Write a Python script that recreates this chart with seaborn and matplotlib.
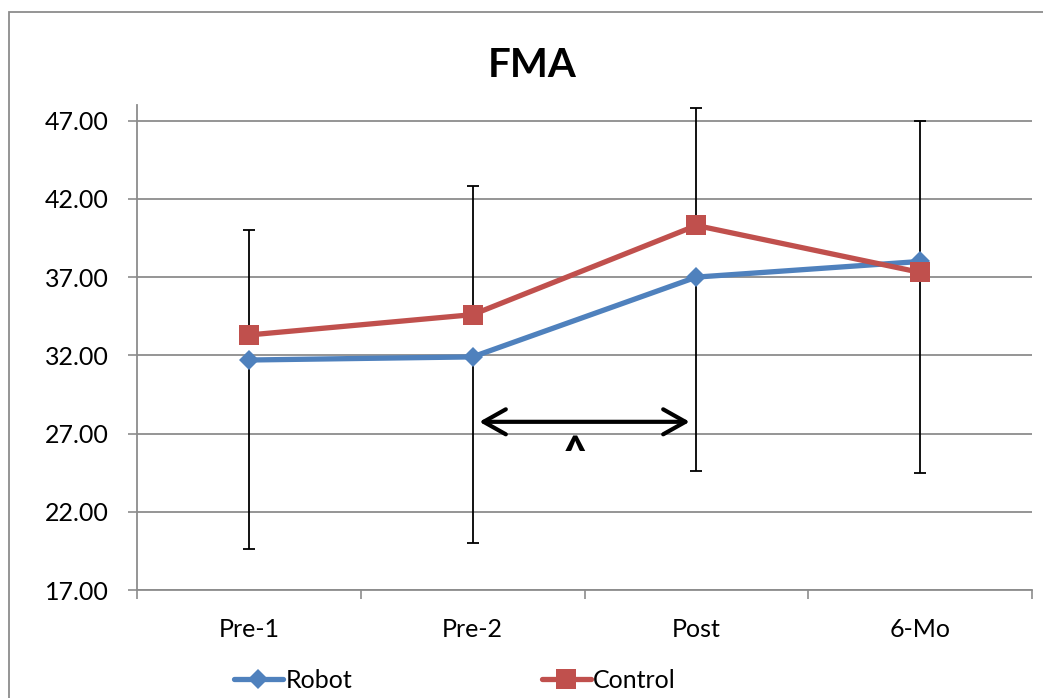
import numpy as np
import pandas as pd
import matplotlib
matplotlib.use("Agg")
import matplotlib.pyplot as plt
from matplotlib.patches import Rectangle
from matplotlib.lines import Line2D
import seaborn as sns

# FMA scores by assessment time point
timepoints = ["Pre-1", "Pre-2", "Post", "6-Mo"]
robot_mean = [31.7, 31.9, 37.0, 38.0]
control_mean = [33.3, 34.6, 40.3, 37.3]
robot_sd = [12.1, 11.9, 12.4, 13.5]      # drawn downward from the mean
control_sd = [6.7, 8.2, 7.5, 9.7]        # drawn upward from the mean
groups = ["Robot", "Control"]
y_ticks = [17, 22, 27, 32, 37, 42, 47]

BLUE = "#4F81BD"
RED = "#C0504D"
GREY = "#8C8C8C"
FS = 18

sns.set_style("white")
plt.rcParams["font.family"] = ["Lato", "DejaVu Sans"]
plt.rcParams["text.color"] = "black"

fig = plt.figure(figsize=(10.43, 6.98), dpi=100)
ax = fig.add_axes([137 / 1043, 108 / 698, 895 / 1043, 485 / 698])

pos = np.arange(len(timepoints))
df = pd.DataFrame({
    "pos": np.tile(pos, len(groups)),
    "score": robot_mean + control_mean,
    "group": np.repeat(groups, len(timepoints)),
})

# one-sided standard deviation bars
zeros = np.zeros(len(timepoints))
ax.errorbar(pos, robot_mean, yerr=[robot_sd, zeros], fmt="none", ecolor="black",
            elinewidth=1.3, capsize=4, capthick=1.3, zorder=1.5)
ax.errorbar(pos, control_mean, yerr=[zeros, control_sd], fmt="none", ecolor="black",
            elinewidth=1.3, capsize=4, capthick=1.3, zorder=1.5)

styles = {
    "Robot": dict(color=BLUE, marker="D", ms=10.5),
    "Control": dict(color=RED, marker="s", ms=14),
}
for g in groups:
    st = styles[g]
    sns.lineplot(data=df[df["group"] == g], x="pos", y="score", ax=ax,
                 color=st["color"], marker=st["marker"], markersize=st["ms"],
                 markeredgewidth=0, linewidth=3.8, legend=False, zorder=3)

ax.set_xlim(-0.5, 3.5)
ax.set_ylim(17, 48)
ax.set_xlabel("")
ax.set_ylabel("")

ax.set_xticks(np.arange(-0.5, len(timepoints), 1.0))
ax.set_xticklabels([])
ax.set_xticks(pos, minor=True)
ax.set_xticklabels(timepoints, minor=True)
ax.tick_params(axis="x", which="major", bottom=True, length=6.5, width=1.2,
               color=GREY, direction="out")
ax.tick_params(axis="x", which="minor", bottom=True, length=0, pad=20,
               labelsize=FS, labelcolor="black")

ax.set_yticks(y_ticks)
ax.set_yticklabels([f"{v:.2f}" for v in y_ticks])
ax.tick_params(axis="y", left=True, length=6.5, width=1.2, color=GREY,
               direction="out", pad=14, labelsize=FS, labelcolor="black")

ax.yaxis.grid(True, color=GREY, linewidth=1.3)
ax.xaxis.grid(False)
ax.set_axisbelow(True)
for side in ("top", "right"):
    ax.spines[side].set_visible(False)
for side in ("left", "bottom"):
    ax.spines[side].set_color(GREY)
    ax.spines[side].set_linewidth(1.3)

# significance bracket between Pre-2 and Post
ax.annotate("", xy=(1.97, 27.75), xytext=(1.03, 27.75),
            arrowprops=dict(arrowstyle="<->,head_length=0.8,head_width=0.45",
                            lw=3, color="black", shrinkA=0, shrinkB=0,
                            mutation_scale=20))
ax.text(1.455, 27.0, "^", ha="center", va="top", fontsize=28,
        fontweight="heavy", color="black")

fig.text(0.510, (698 - 77) / 698, "FMA", ha="center", va="baseline",
         fontsize=29, fontweight="bold", color="black")

handles = [
    Line2D([], [], color=BLUE, lw=3.8, marker="D", ms=10.5, mew=0),
    Line2D([], [], color=RED, lw=3.8, marker="s", ms=14, mew=0),
]
leg = fig.legend(handles, groups, loc="center", bbox_to_anchor=(455 / 1043, 18 / 698),
                 ncol=2, frameon=False, fontsize=FS, handlelength=1.95,
                 handletextpad=0.1, columnspacing=7.6, numpoints=1)
for t in leg.get_texts():
    t.set_color("black")

# chart frame
fig.patches.append(Rectangle((9 / 1043, -0.1), 1.2, 1.1 - 12 / 698,
                             transform=fig.transFigure, fill=False,
                             edgecolor=GREY, linewidth=1.3))

fig.savefig("out.png", dpi=100)
